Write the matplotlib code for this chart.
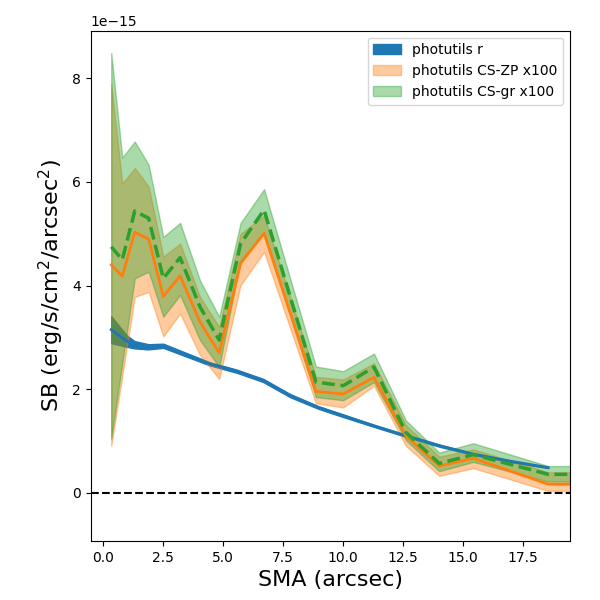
import numpy as np
import matplotlib
matplotlib.use("Agg")
import matplotlib.pyplot as plt

# photutils r profile
sma_r = np.array([0.33, 0.98, 1.30, 1.88, 2.50, 3.33, 4.45, 5.56, 6.67, 7.78,
                  8.96, 10.0, 11.25, 12.5, 14.03, 15.42, 17.0, 18.54])
sb_r = np.array([3.15, 2.93, 2.86, 2.82, 2.84, 2.69, 2.49, 2.35, 2.17, 1.88,
                 1.65, 1.49, 1.30, 1.12, 0.91, 0.75, 0.61, 0.49]) * 1e-15
sb_r_err = np.array([0.26, 0.11, 0.07, 0.05, 0.04, 0.035, 0.03, 0.03, 0.03, 0.03,
                     0.025, 0.025, 0.02, 0.02, 0.02, 0.015, 0.015, 0.01]) * 1e-15

# CS profiles (x100)
sma_cs = np.array([0.33, 0.79, 1.31, 1.89, 2.5, 3.2, 4.03, 4.83, 5.72, 6.70,
                   8.86, 10.0, 11.28, 12.61, 14.0, 15.42, 18.54, 20.2])
sb_zp = np.array([4.40, 4.18, 5.03, 4.90, 3.79, 4.19, 3.30, 2.70, 4.43, 5.01,
                  1.96, 1.91, 2.23, 1.10, 0.52, 0.67, 0.17, 0.17]) * 1e-15
sb_zp_hi = np.array([7.89, 5.97, 6.27, 5.91, 4.56, 4.81, 3.78, 3.20, 5.00, 5.35,
                     2.24, 2.19, 2.50, 1.31, 0.70, 0.84, 0.40, 0.40]) * 1e-15
sb_zp_lo = np.array([0.91, 2.26, 3.78, 3.88, 3.02, 3.46, 2.66, 2.20, 4.01, 4.65,
                     1.73, 1.65, 2.07, 0.91, 0.33, 0.48, 0.04, 0.04]) * 1e-15
sb_gr = np.array([4.75, 4.50, 5.44, 5.30, 4.14, 4.54, 3.59, 2.95, 4.81, 5.46,
                  2.14, 2.07, 2.43, 1.17, 0.57, 0.74, 0.36, 0.36]) * 1e-15
sb_gr_hi = np.array([8.49, 6.47, 6.78, 6.33, 4.94, 5.21, 4.10, 3.40, 5.21, 5.86,
                     2.44, 2.35, 2.69, 1.40, 0.78, 0.96, 0.52, 0.52]) * 1e-15
sb_gr_lo = np.array([1.05, 2.50, 4.14, 4.27, 3.40, 3.82, 2.95, 2.43, 4.49, 5.02,
                     1.85, 1.79, 2.14, 1.02, 0.42, 0.60, 0.22, 0.22]) * 1e-15

fig, ax = plt.subplots(figsize=(6, 6), dpi=100)
plt.subplots_adjust(left=0.151, right=0.95, bottom=0.098, top=0.949)

ax.fill_between(sma_r, sb_r - sb_r_err, sb_r + sb_r_err, color='C0', label='photutils r')
ax.fill_between(sma_cs, sb_zp_lo, sb_zp_hi, color='C1', alpha=0.4, label='photutils CS-ZP x100')
ax.fill_between(sma_cs, sb_gr_lo, sb_gr_hi, color='C2', alpha=0.4, label='photutils CS-gr x100')

ax.plot(sma_r, sb_r, color='C0', lw=2)
ax.plot(sma_cs, sb_zp, color='C1', lw=2)
ax.plot(sma_cs, sb_gr, color='C2', lw=2.5, ls='--')

ax.axhline(0, color='k', ls='--')

ax.set_xlim(-0.53, 19.45)
ax.set_ylim(-0.93e-15, 8.92e-15)
ax.set_xlabel('SMA (arcsec)', fontsize=16)
ax.set_ylabel('SB (erg/s/cm$^2$/arcsec$^2$)', fontsize=16)
ax.legend(loc='upper right')

plt.savefig('out.png')
